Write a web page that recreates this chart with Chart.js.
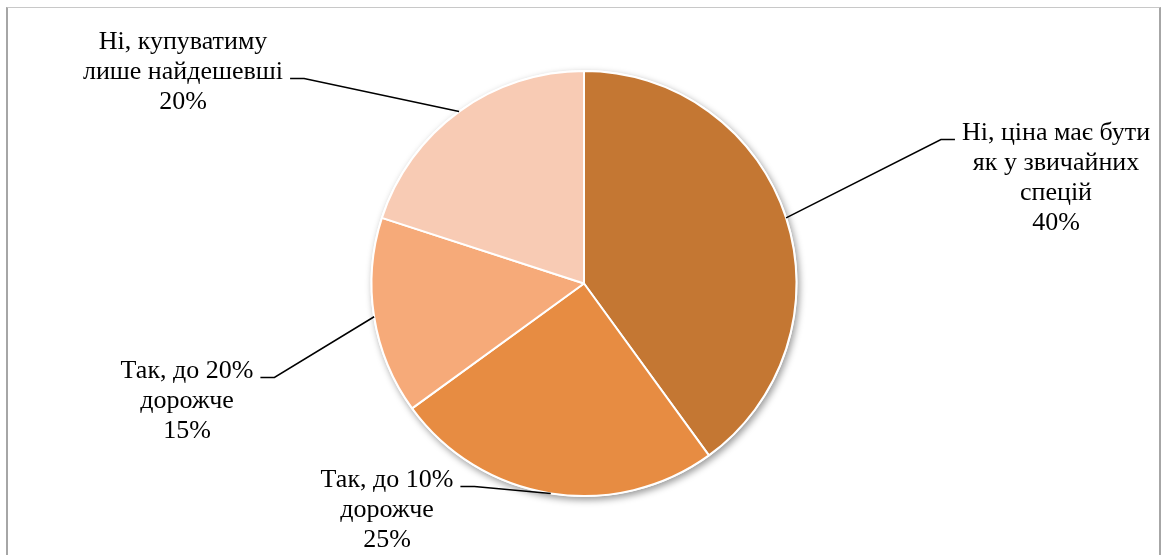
<!DOCTYPE html>
<html lang="uk">
<head>
<meta charset="utf-8">
<title>Ціна спецій</title>
<script src="https://cdn.jsdelivr.net/npm/chart.js@4/dist/chart.umd.min.js"></script>
<style>
    html, body { margin: 0; padding: 0; background: #fff; overflow: hidden; }
    #wrap { position: relative; width: 1166px; height: 555px; }
    #frame {
        position: absolute; left: 6px; top: 7px; width: 1155px; height: 560px;
        border-top: 1px solid #c8c8c8;
        border-left: 2px solid #a6a6a6;
        border-right: 2px solid #a6a6a6;
        box-sizing: border-box;
    }
    canvas { position: absolute; left: 0; top: 0; }
</style>
</head>
<body>
<div id="wrap">
    <div id="frame"></div>
    <canvas id="pieChart" width="1166" height="555"></canvas>
</div>
<script>
const categories = [
    'Ні, ціна має бути як у звичайних спецій',
    'Так, до 10% дорожче',
    'Так, до 20% дорожче',
    'Ні, купуватиму лише найдешевші'
];
const shares = [40, 25, 15, 20];
const labelLines = [
    ['Ні, ціна має бути', 'як у звичайних', 'спецій'],
    ['Так, до 10%', 'дорожче'],
    ['Так, до 20%', 'дорожче'],
    ['Ні, купуватиму', 'лише найдешевші']
];
const sliceColors = ['#c47733', '#e78c42', '#f6aa79', '#f8cbb4'];

// where each label block sits, relative to the pie centre;
// hook = which text line the leader line attaches to, side = which end
const labelLayout = [
    { dx: 472, dy: -150, hook: 0, side: 'left' },
    { dx: -197, dy: 197, hook: 0, side: 'right' },
    { dx: -397, dy: 88, hook: 0, side: 'right' },
    { dx: -401, dy: -241, hook: 1, side: 'right' }
];

const FONT = '26px "Liberation Serif", "Times New Roman", serif';
const LINE_H = 30;

// soft drop shadow under the whole disc (not under each slice)
const pieShadow = {
    id: 'pieShadow',
    beforeDatasetsDraw(chart) {
        const arc = chart.getDatasetMeta(0).data[0];
        if (!arc) return;
        const { x, y, outerRadius } = arc.getProps(['x', 'y', 'outerRadius'], true);
        const ctx = chart.ctx;
        ctx.save();
        ctx.shadowColor = 'rgba(0, 0, 0, 0.4)';
        ctx.shadowBlur = 7;
        ctx.shadowOffsetX = 2;
        ctx.shadowOffsetY = 3;
        ctx.fillStyle = '#ffffff';
        ctx.beginPath();
        ctx.arc(x, y, outerRadius + 1, 0, Math.PI * 2);
        ctx.fill();
        ctx.restore();
    }
};

const calloutLabels = {
    id: 'calloutLabels',
    afterDraw(chart) {
        const ctx = chart.ctx;
        const arcs = chart.getDatasetMeta(0).data;
        ctx.save();
        ctx.font = FONT;
        ctx.fillStyle = '#000';
        ctx.textAlign = 'center';
        ctx.textBaseline = 'middle';
        arcs.forEach((arc, i) => {
            const { x, y, startAngle, endAngle, outerRadius } =
                arc.getProps(['x', 'y', 'startAngle', 'endAngle', 'outerRadius'], true);
            const mid = (startAngle + endAngle) / 2;
            const ax = x + Math.cos(mid) * outerRadius;
            const ay = y + Math.sin(mid) * outerRadius;

            const lay = labelLayout[i];
            const cx = x + lay.dx;
            const top = y + lay.dy;
            const lines = labelLines[i].concat([shares[i] + '%']);
            lines.forEach((t, k) => ctx.fillText(t, cx, top + k * LINE_H));

            // leader: arc midpoint -> short horizontal stub next to the text
            const w = ctx.measureText(lines[lay.hook]).width;
            const sy = top + lay.hook * LINE_H + 6;
            let s1, s2;
            if (lay.side === 'left') {
                s2 = cx - w / 2 - 7;
                s1 = s2 - 14;
            } else {
                s2 = cx + w / 2 + 7;
                s1 = s2 + 14;
            }
            ctx.beginPath();
            ctx.lineWidth = 1.5;
            ctx.strokeStyle = '#000';
            ctx.moveTo(ax, ay);
            ctx.lineTo(s1, sy);
            ctx.lineTo(s2, sy);
            ctx.stroke();
        });
        ctx.restore();
    }
};

new Chart(document.getElementById('pieChart').getContext('2d'), {
    type: 'pie',
    data: {
        labels: categories,
        datasets: [{
            data: shares,
            backgroundColor: sliceColors,
            borderColor: '#ffffff',
            borderWidth: 2
        }]
    },
    options: {
        responsive: false,
        animation: false,
        layout: { padding: { top: 70, bottom: 58, left: 2, right: 0 } },
        plugins: {
            legend: { display: false },
            tooltip: { enabled: false }
        }
    },
    plugins: [pieShadow, calloutLabels]
});
</script>
</body>
</html>
